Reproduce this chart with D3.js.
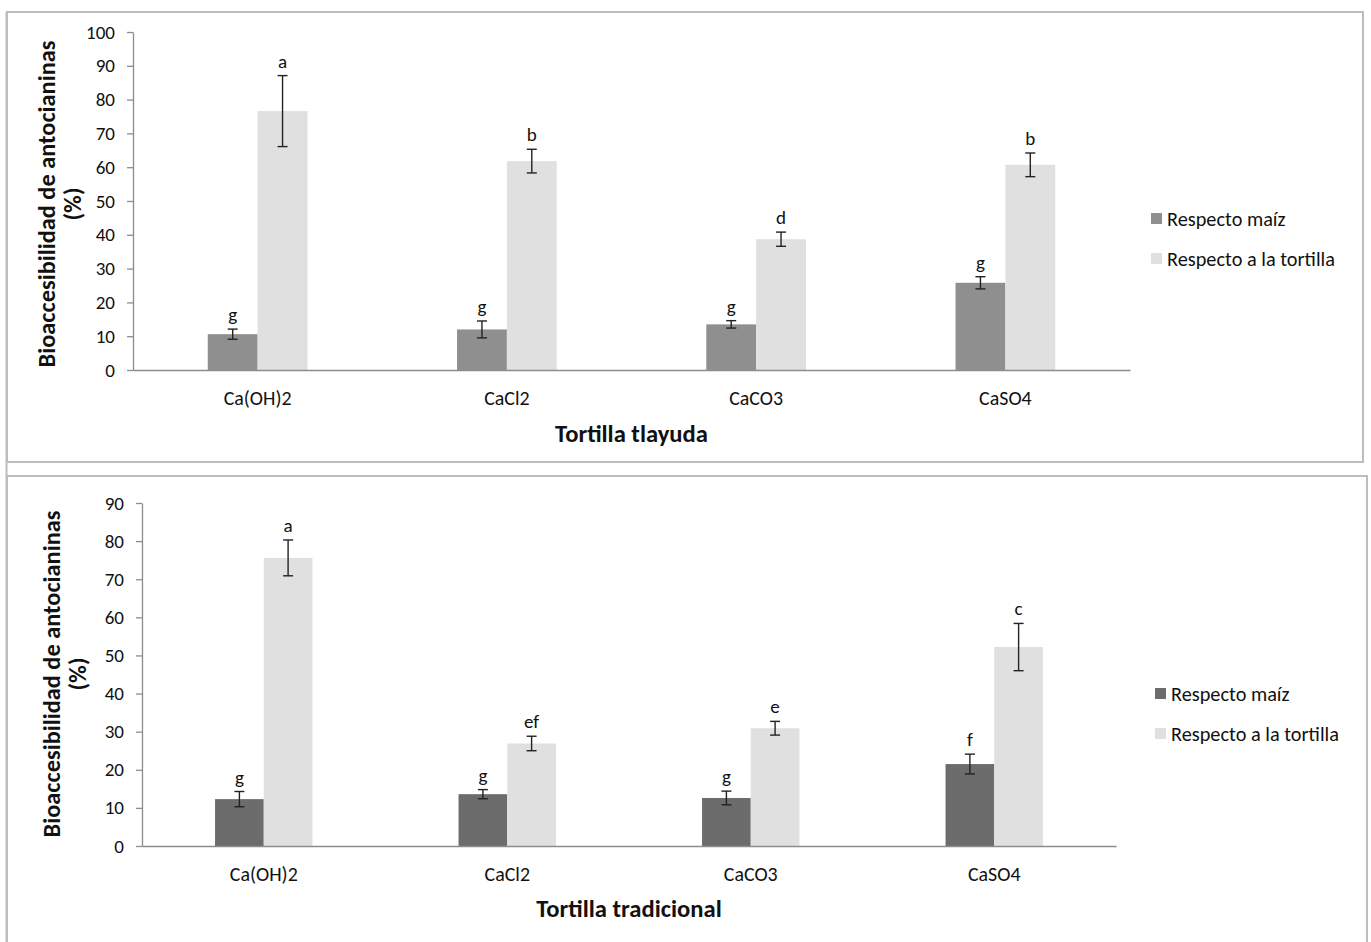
<!DOCTYPE html>
<html>
<head>
<meta charset="utf-8">
<script src="https://cdn.jsdelivr.net/npm/d3@7"></script>
<style>
  body { margin: 0; background: #fff; }
  text { font-family: Calibri, Carlito, Lato, sans-serif; fill: #111; }
</style>
</head>
<body>
<div id="figure"></div>
<script>
// categories and series
var categories = ["Ca(OH)2", "CaCl2", "CaCO3", "CaSO4"];
var seriesNames = ["Respecto maíz", "Respecto a la tortilla"];

// Tortilla tlayuda
var tlayudaMaiz = [10.6, 12.0, 13.5, 25.8];
var tlayudaMaizErr = [1.5, 2.5, 1.1, 1.8];
var tlayudaTortilla = [76.6, 61.8, 38.7, 60.7];
var tlayudaTortillaErr = [10.5, 3.5, 2.1, 3.5];
var tlayudaMaizLetters = ["g", "g", "g", "g"];
var tlayudaTortillaLetters = ["a", "b", "d", "b"];
var tlayudaTicks = [0, 10, 20, 30, 40, 50, 60, 70, 80, 90, 100];

// Tortilla tradicional
var tradMaiz = [12.3, 13.6, 12.6, 21.5];
var tradMaizErr = [2.0, 1.2, 1.8, 2.6];
var tradTortilla = [75.6, 26.9, 30.9, 52.2];
var tradTortillaErr = [4.7, 1.9, 1.8, 6.2];
var tradMaizLetters = ["g", "g", "g", "f"];
var tradTortillaLetters = ["a", "ef", "e", "c"];
var tradTicks = [0, 10, 20, 30, 40, 50, 60, 70, 80, 90];

var yTitle = ["Bioaccesibilidad de antocianinas", "(%)"];

const svg = d3.select("#figure")
  .append("svg")
  .attr("width", 1371)
  .attr("height", 942);

// the fallback font is wider than Calibri, so size each kind of text
// to the width it has in the original picture
function fitSize(str, target, weight) {
  const t = svg.append("text").attr("font-size", 20).attr("font-weight", weight || "normal").text(str);
  const w = t.node().getComputedTextLength();
  t.remove();
  return 20 * target / w;
}
const tickFont = fitSize("100", 29);
const catFont = fitSize("Ca(OH)2", 68);
const legendFont = fitSize("Respecto a la tortilla", 168);
const yTitleFont = fitSize(yTitle[0], 327, "bold");
const xTitleFont = fitSize("Tortilla tlayuda", 153, "bold");

// long line on the left of the page
svg.append("line")
  .attr("x1", 6.5).attr("x2", 6.5).attr("y1", 12).attr("y2", 942)
  .attr("stroke", "#bdbdbd").attr("stroke-width", 2);

function drawPanel(p) {
  // frame
  svg.append("rect")
    .attr("x", p.frame[0]).attr("y", p.frame[1])
    .attr("width", p.frame[2]).attr("height", p.frame[3])
    .attr("fill", "none").attr("stroke", "#bdbdbd").attr("stroke-width", 2);

  const x = d3.scaleBand()
    .domain(categories)
    .range([p.left, p.right])
    .paddingInner(0.6)
    .paddingOuter(0.3);
  const xs = d3.scaleBand()
    .domain(seriesNames)
    .range([0, x.bandwidth()]);
  const y = d3.scaleLinear()
    .domain([0, p.ticks[p.ticks.length - 1]])
    .range([p.bottom, p.top]);

  // y axis
  const yAxis = svg.append("g")
    .attr("transform", `translate(${p.left},0)`)
    .call(d3.axisLeft(y).tickValues(p.ticks).tickSize(6).tickPadding(12).tickSizeOuter(0));
  yAxis.selectAll("path, line").attr("stroke", "#8c8c8c").attr("stroke-width", 1.3);
  yAxis.selectAll("text").attr("font-size", tickFont).style("font-family", "Calibri, Carlito, Lato, sans-serif").attr("fill", "#111");

  // bars
  const rows = categories.map((c, i) => [
    {cat: c, s: seriesNames[0], v: p.maiz[i], e: p.maizErr[i], l: p.maizLetters[i], color: p.dark},
    {cat: c, s: seriesNames[1], v: p.tortilla[i], e: p.tortillaErr[i], l: p.tortillaLetters[i], color: "#e0e0e0"}
  ]).flat();

  svg.append("g").selectAll("rect")
    .data(rows)
    .join("rect")
    .attr("x", d => x(d.cat) + xs(d.s))
    .attr("y", d => y(d.v))
    .attr("width", xs.bandwidth())
    .attr("height", d => y(0) - y(d.v))
    .attr("fill", d => d.color);

  // x axis (line only)
  const xAxis = svg.append("g")
    .attr("transform", `translate(0,${p.bottom})`)
    .call(d3.axisBottom(x).tickSize(0).tickSizeOuter(0));
  xAxis.select("path").attr("stroke", "#8c8c8c").attr("stroke-width", 1.3);
  xAxis.selectAll("text")
    .attr("y", 28).attr("dy", "0.35em")
    .attr("font-size", catFont).style("font-family", "Calibri, Carlito, Lato, sans-serif").attr("fill", "#111");

  // error bars
  const eb = svg.append("g").attr("stroke", "#222").attr("stroke-width", 1.4);
  rows.forEach(d => {
    const cx = x(d.cat) + xs(d.s) + xs.bandwidth() / 2;
    eb.append("line").attr("x1", cx).attr("x2", cx).attr("y1", y(d.v + d.e)).attr("y2", y(d.v - d.e));
    eb.append("line").attr("x1", cx - 5).attr("x2", cx + 5).attr("y1", y(d.v + d.e)).attr("y2", y(d.v + d.e));
    eb.append("line").attr("x1", cx - 5).attr("x2", cx + 5).attr("y1", y(d.v - d.e)).attr("y2", y(d.v - d.e));
  });

  // letters
  svg.append("g").selectAll("text")
    .data(rows)
    .join("text")
    .attr("x", d => x(d.cat) + xs(d.s) + xs.bandwidth() / 2)
    .attr("y", d => y(d.v + d.e) - 8)
    .attr("text-anchor", "middle")
    .attr("font-size", tickFont)
    .text(d => d.l);

  // y title
  const yt = svg.append("text")
    .attr("transform", `translate(${p.yTitleX},${p.yTitleY}) rotate(-90)`)
    .attr("text-anchor", "middle")
    .attr("font-weight", "bold")
    .attr("font-size", yTitleFont);
  yt.append("tspan").attr("x", 0).attr("dy", 0).text(yTitle[0]);
  yt.append("tspan").attr("x", 0).attr("dy", 26).text(yTitle[1]);

  // x title
  svg.append("text")
    .attr("x", (p.left + p.right) / 2)
    .attr("y", p.xTitleY)
    .attr("dy", "0.35em")
    .attr("text-anchor", "middle")
    .attr("font-weight", "bold")
    .attr("font-size", xTitleFont)
    .text(p.title);

  // legend
  const lg = svg.append("g").attr("transform", `translate(${p.legend[0]},${p.legend[1]})`);
  seriesNames.forEach((s, i) => {
    lg.append("rect").attr("x", 0).attr("y", i * 40).attr("width", 11).attr("height", 11)
      .attr("fill", i === 0 ? p.dark : "#e0e0e0");
    lg.append("text").attr("x", 16).attr("y", i * 40 + 6).attr("dy", "0.35em")
      .attr("font-size", legendFont).text(s);
  });
}

drawPanel({
  frame: [7, 12, 1356, 450],
  left: 133, right: 1130, top: 32, bottom: 370,
  ticks: tlayudaTicks,
  maiz: tlayudaMaiz, maizErr: tlayudaMaizErr, maizLetters: tlayudaMaizLetters,
  tortilla: tlayudaTortilla, tortillaErr: tlayudaTortillaErr, tortillaLetters: tlayudaTortillaLetters,
  dark: "#8f8f8f",
  yTitleX: 55, yTitleY: 204, xTitleY: 433,
  title: "Tortilla tlayuda",
  legend: [1151, 213]
});

drawPanel({
  frame: [7, 476, 1360, 490],
  left: 142, right: 1116, top: 503, bottom: 846,
  ticks: tradTicks,
  maiz: tradMaiz, maizErr: tradMaizErr, maizLetters: tradMaizLetters,
  tortilla: tradTortilla, tortillaErr: tradTortillaErr, tortillaLetters: tradTortillaLetters,
  dark: "#6c6c6c",
  yTitleX: 60, yTitleY: 674, xTitleY: 908,
  title: "Tortilla tradicional",
  legend: [1155, 688]
});
</script>
</body>
</html>
